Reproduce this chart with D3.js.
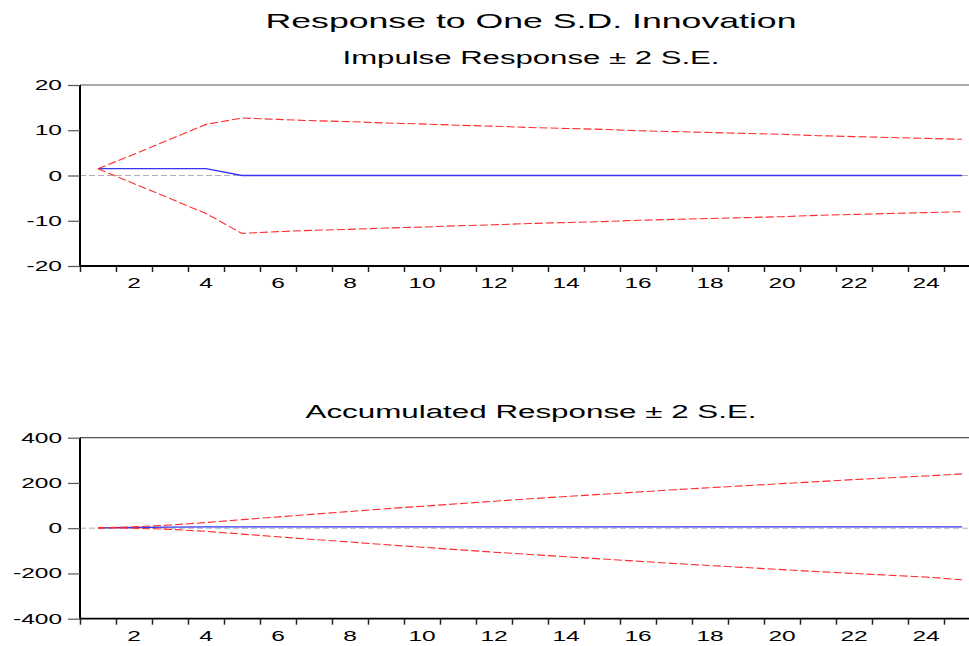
<!DOCTYPE html>
<html>
<head>
<meta charset="utf-8">
<script src="https://cdn.jsdelivr.net/npm/d3@7"></script>
<style>
  body { margin: 0; background: #fff; }
  svg { display: block; font-family: Arial, "Liberation Sans", sans-serif; }
</style>
</head>
<body>
<div id="chart"></div>
<script>
// periods 1..25
var periods = d3.range(1, 26);

// impulse response and +/- 2 S.E. bands
var impulse = [1.5, 1.5, 1.5, 1.5, 0, 0, 0, 0, 0, 0, 0, 0, 0, 0, 0, 0, 0, 0, 0, 0, 0, 0, 0, 0, 0];
var impulseUpper = [1.5, 4.7, 8.0, 11.3, 12.7, 12.4, 12.1, 11.9, 11.6, 11.4, 11.1, 10.9, 10.6,
                    10.4, 10.2, 9.9, 9.7, 9.5, 9.3, 9.1, 8.8, 8.6, 8.4, 8.2, 8.0];
var impulseLower = [1.5, -1.8, -5.1, -8.4, -12.8, -12.4, -12.1, -11.9, -11.6, -11.4, -11.1, -10.9, -10.6,
                    -10.4, -10.2, -9.9, -9.7, -9.5, -9.3, -9.1, -8.8, -8.6, -8.4, -8.2, -8.0];

// accumulated response and +/- 2 S.E. bands
var accum = [1.5, 3, 4.5, 6, 6, 6, 6, 6, 6, 6, 6, 6, 6, 6, 6, 6, 6, 6, 6, 6, 6, 6, 6, 6, 6];
var accumUpper = [1.5, 6, 14, 25, 38, 50, 62, 74, 86, 97, 108, 119, 130, 140, 150,
                  160, 170, 179, 188, 197, 206, 215, 223, 231, 240];
var accumLower = [1.5, 0, -5, -14, -26, -38, -50, -61, -73, -84, -95, -106, -116, -126, -136,
                  -146, -156, -165, -174, -183, -192, -200, -208, -216, -228];

var xLabels = [2, 4, 6, 8, 10, 12, 14, 16, 18, 20, 22, 24];
var topTicks = [-20, -10, 0, 10, 20];
var bottomTicks = [-400, -200, 0, 200, 400];

var width = 969, height = 646;
var left = 80, right = 980;
var stretch = 1.75;

var svg = d3.select("#chart").append("svg")
    .attr("width", width)
    .attr("height", height);

var x = d3.scaleLinear().domain([0.5, 25.5]).range([left, right]);

svg.append("text")
    .attr("x", 531).attr("y", 28)
    .attr("text-anchor", "middle")
    .attr("font-size", 21)
    .attr("textLength", 531)
    .attr("lengthAdjust", "spacingAndGlyphs")
    .text("Response to One S.D. Innovation");

function panel(title, titleY, titleLen, top, bottom, yDomain, yTicks, mid, upper, lower) {
    var y = d3.scaleLinear().domain(yDomain).range([bottom, top]);
    var g = svg.append("g");

    g.append("text")
        .attr("x", 531).attr("y", titleY)
        .attr("text-anchor", "middle")
        .attr("font-size", 18)
        .attr("textLength", titleLen)
        .attr("lengthAdjust", "spacingAndGlyphs")
        .text(title);

    // frame top
    g.append("line")
        .attr("x1", left).attr("x2", right)
        .attr("y1", top).attr("y2", top)
        .attr("stroke", "#555").attr("stroke-width", 1.2);

    // zero line
    g.append("line")
        .attr("x1", left).attr("x2", right)
        .attr("y1", y(0)).attr("y2", y(0))
        .attr("stroke", "#b0b0b0").attr("stroke-width", 1)
        .attr("stroke-dasharray", "6,3");

    // y axis
    var yAxis = g.append("g")
        .attr("transform", "translate(" + left + ",0)")
        .call(d3.axisLeft(y).tickValues(yTicks).tickSize(12).tickFormat(""));
    yAxis.select(".domain").attr("stroke", "#000").attr("stroke-width", 2)
        .attr("d", "M0," + top + "V" + bottom);
    yAxis.selectAll(".tick line").attr("stroke", "#555").attr("stroke-width", 1.2);

    yTicks.forEach(function(v) {
        g.append("text")
            .attr("transform", "translate(62," + (y(v) + 5) + ") scale(" + stretch + ",1)")
            .attr("text-anchor", "end")
            .attr("font-size", 14)
            .text(v);
    });

    // x axis, ticks on period boundaries
    var xAxis = g.append("g")
        .attr("transform", "translate(0," + bottom + ")")
        .call(d3.axisBottom(x).tickValues(d3.range(0.5, 26, 1)).tickSize(6).tickFormat(""));
    xAxis.select(".domain").attr("stroke", "#000").attr("stroke-width", 1.8)
        .attr("d", "M" + left + ",0H" + right);
    xAxis.selectAll(".tick line").attr("stroke", "#222").attr("stroke-width", 1.5);

    xLabels.forEach(function(v) {
        g.append("text")
            .attr("transform", "translate(" + x(v) + "," + (bottom + 22) + ") scale(" + stretch + ",1)")
            .attr("text-anchor", "middle")
            .attr("font-size", 14)
            .text(v);
    });

    var line = d3.line()
        .x(function(d, i) { return x(periods[i]); })
        .y(function(d) { return y(d); });

    g.append("path").datum(mid)
        .attr("d", line)
        .attr("fill", "none")
        .attr("stroke", "#3636f0").attr("stroke-width", 1.3);

    [upper, lower].forEach(function(s) {
        g.append("path").datum(s)
            .attr("d", line)
            .attr("fill", "none")
            .attr("stroke", "#ff2a2a").attr("stroke-width", 1.1)
            .attr("stroke-dasharray", "8,3");
    });
}

panel("Impulse Response \u00b1 2 S.E.", 64, 377, 85, 266, [-20, 20], topTicks,
      impulse, impulseUpper, impulseLower);
panel("Accumulated Response \u00b1 2 S.E.", 418, 451, 437.7, 618.7, [-400, 400], bottomTicks,
      accum, accumUpper, accumLower);
</script>
</body>
</html>
